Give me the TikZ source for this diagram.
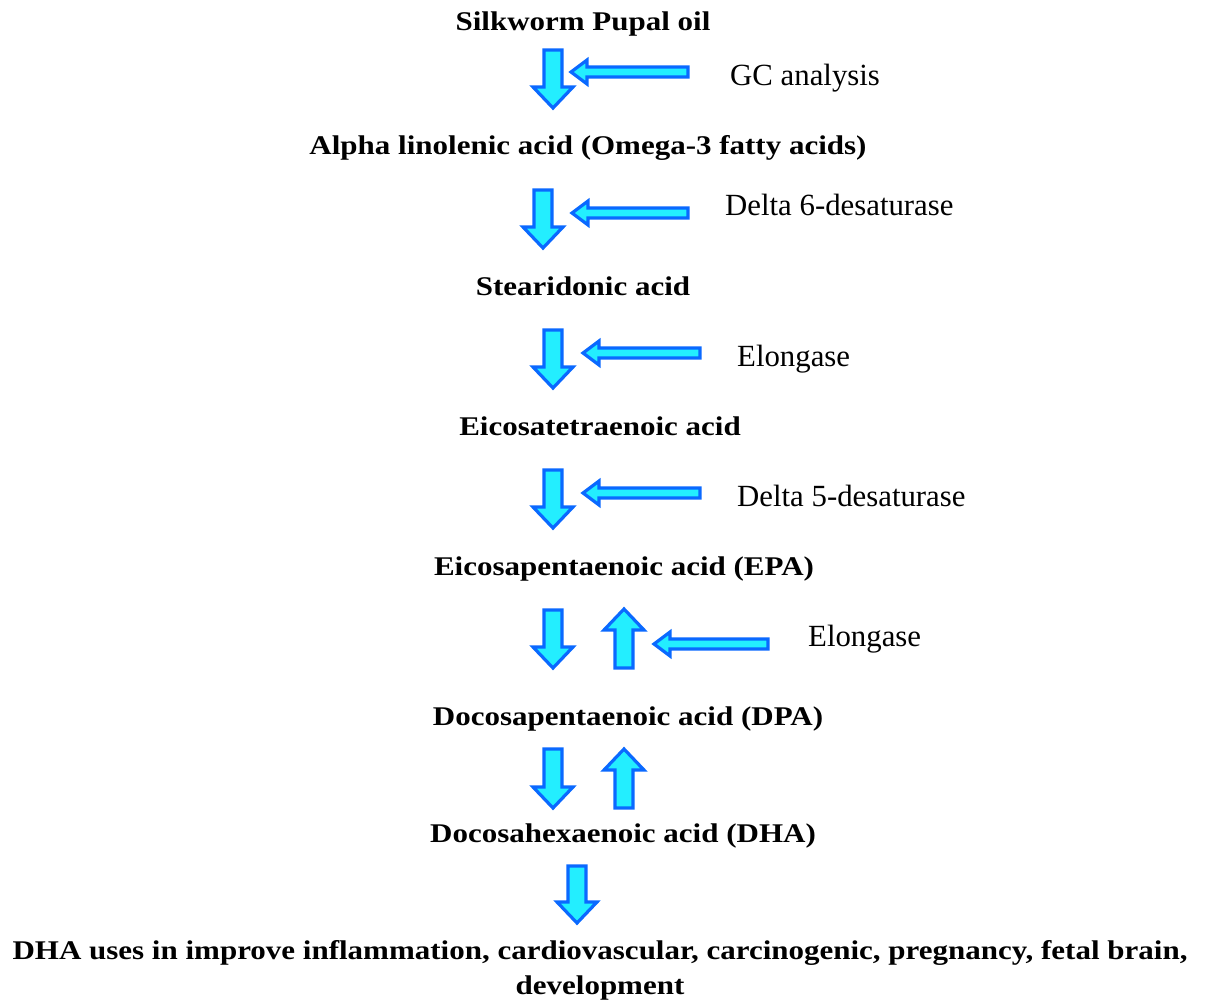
\documentclass[tikz,border=0pt]{standalone}
\usepackage{fontspec}
\setmainfont{Liberation Serif}
\newfontfamily\cmpdfont[FakeStretch=1.148]{Liberation Serif}
\begin{document}
\begin{tikzpicture}[x=1pt,y=-1pt,
  blk/.style={draw={rgb,255:red,10;green,105;blue,255},fill={rgb,255:red,35;green,238;blue,255},line width=3.2pt,line join=miter},
  cmpd/.style={anchor=base,inner sep=0pt,font=\cmpdfont\bfseries\fontsize{27}{32}\selectfont},
  enz/.style={anchor=base west,inner sep=0pt,font=\fontsize{30.8}{34}\selectfont}]
\useasboundingbox (0,0) rectangle (1206,1000);
\newcommand\darr[3]{\draw[blk] ({#1-9},#2) -- ({#1+9},#2) -- ({#1+9},{#3-21}) -- ({#1+20},{#3-21}) -- (#1,#3) -- ({#1-20},{#3-21}) -- ({#1-9},{#3-21}) -- cycle;}
\newcommand\uarr[3]{\draw[blk] ({#1-9},#3) -- ({#1+9},#3) -- ({#1+9},{#2+21}) -- ({#1+20},{#2+21}) -- (#1,#2) -- ({#1-20},{#2+21}) -- ({#1-9},{#2+21}) -- cycle;}
\newcommand\larr[3]{\draw[blk] (#3,{#2-5}) -- (#3,{#2+5}) -- ({#1+16},{#2+5}) -- ({#1+16},{#2+12}) -- (#1,#2) -- ({#1+16},{#2-12}) -- ({#1+16},{#2-5}) -- cycle;}

\node[cmpd] (silk) at (583,31) {Silkworm Pupal oil};
\node[cmpd] (ala) at (588,155) {Alpha linolenic acid (Omega-3 fatty acids)};
\node[cmpd] (sda) at (583,295) {Stearidonic acid};
\node[cmpd] (eta) at (600,435) {Eicosatetraenoic acid};
\node[cmpd] (epa) at (624,575) {Eicosapentaenoic acid (EPA)};
\node[cmpd] (dpa) at (628,725) {Docosapentaenoic acid (DPA)};
\node[cmpd] (dha) at (623,842) {Docosahexaenoic acid (DHA)};
\node[cmpd] (use1) at (600,959) {DHA uses in improve inflammation, cardiovascular, carcinogenic, pregnancy, fetal brain,};
\node[cmpd] (use2) at (600,994) {development};

\node[enz] (gc) at (730,86) {GC analysis};
\node[enz] (d6) at (725,215) {Delta 6-desaturase};
\node[enz] (el1) at (737,366) {Elongase};
\node[enz] (d5) at (737,506) {Delta 5-desaturase};
\node[enz] (el2) at (808,646) {Elongase};

\darr{553}{50}{108}
\larr{571}{72}{688}
\darr{543}{190}{248}
\larr{572}{213}{688}
\darr{553}{330}{388}
\larr{583}{353}{700}
\darr{553}{470}{528}
\larr{583}{493}{700}
\darr{553}{610}{668}
\uarr{624}{609}{668}
\larr{654}{644}{768}
\darr{553}{749}{808}
\uarr{624}{749}{808}
\darr{577}{866}{923}
\end{tikzpicture}
\end{document}
